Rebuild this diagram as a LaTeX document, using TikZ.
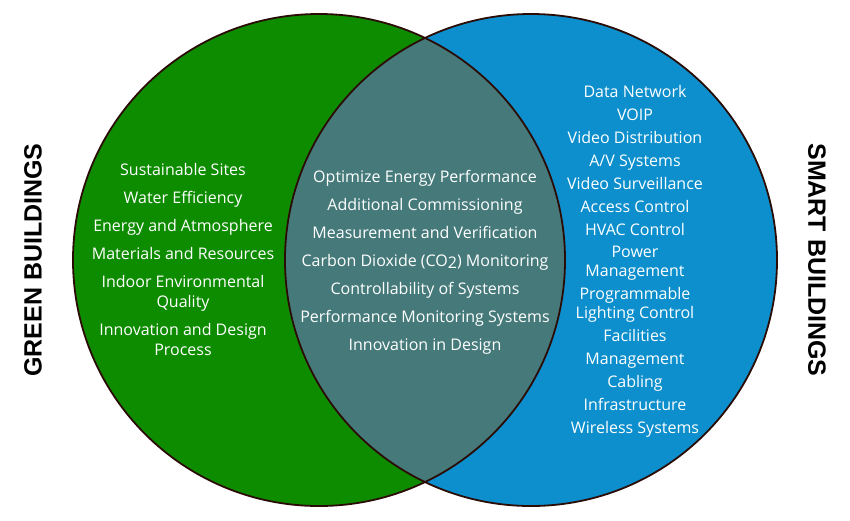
\documentclass[tikz,border=0pt]{standalone}
\usepackage{fontspec}
\setmainfont{Open Sans}
\newfontfamily\headfont{Liberation Sans}
\definecolor{greenfill}{HTML}{0E8C00}
\definecolor{smartfill}{HTML}{0C8FCC}
\definecolor{bothfill}{HTML}{467A7A}
\definecolor{rimcolor}{HTML}{2B0C05}
\begin{document}
\begin{tikzpicture}[x=1pt, y=-1pt,
    item/.style={text=white, font=\fontsize{16}{20}\selectfont, align=center, inner sep=0pt, anchor=base},
    tight/.style={font=\fontsize{16}{19}\selectfont},
    head/.style={font=\headfont\bfseries\fontsize{25}{25}\selectfont, inner sep=0pt}]
    \useasboundingbox (0,0) rectangle (850,520);
    % the two sets and their overlap
    \fill[greenfill] (319,260) circle (246pt);
    \fill[smartfill] (531,260) circle (246pt);
    \begin{scope}
        \clip (319,260) circle (246pt);
        \fill[bothfill] (531,260) circle (246pt);
    \end{scope}
    \draw[rimcolor, line width=1.8pt] (319,260) circle (246pt);
    \draw[rimcolor, line width=1.8pt] (531,260) circle (246pt);
    % titles
    \node[head, rotate=90] (green) at (33,260) {GREEN BUILDINGS};
    \node[head, rotate=-90] (smart) at (817,260) {SMART BUILDINGS};
    % green only (y of the last line)
    \foreach \y/\t [count=\i] in {169/Sustainable Sites, 197/Water Efficiency,
        225/Energy and Atmosphere, 253/Materials and Resources,
        301/{Indoor Environmental\\Quality}, 349/{Innovation and Design\\Process}}
        \node[item] (g\i) at (183,\y+6) {\t};
    % both
    \foreach \y/\t [count=\i] in {176/Optimize Energy Performance, 204/Additional Commissioning,
        232/Measurement and Verification, 260/{Carbon Dioxide (CO\raisebox{-.25ex}{2}) Monitoring},
        288/Controllability of Systems, 316/Performance Monitoring Systems,
        344/Innovation in Design}
        \node[item] (b\i) at (425,\y+6) {\t};
    % smart only
    \foreach \y/\t [count=\i] in {91/Data Network, 114/VOIP, 137/Video Distribution,
        160/{A/V Systems}, 183/Video Surveillance, 206/Access Control, 229/HVAC Control,
        270/{Power\\Management}, 312/{Programmable\\Lighting Control}, 335/Facilities,
        358/Management, 381/Cabling, 404/Infrastructure, 427/Wireless Systems}
        \node[item, tight] (s\i) at (635,\y+6) {\t};
\end{tikzpicture}
\end{document}
